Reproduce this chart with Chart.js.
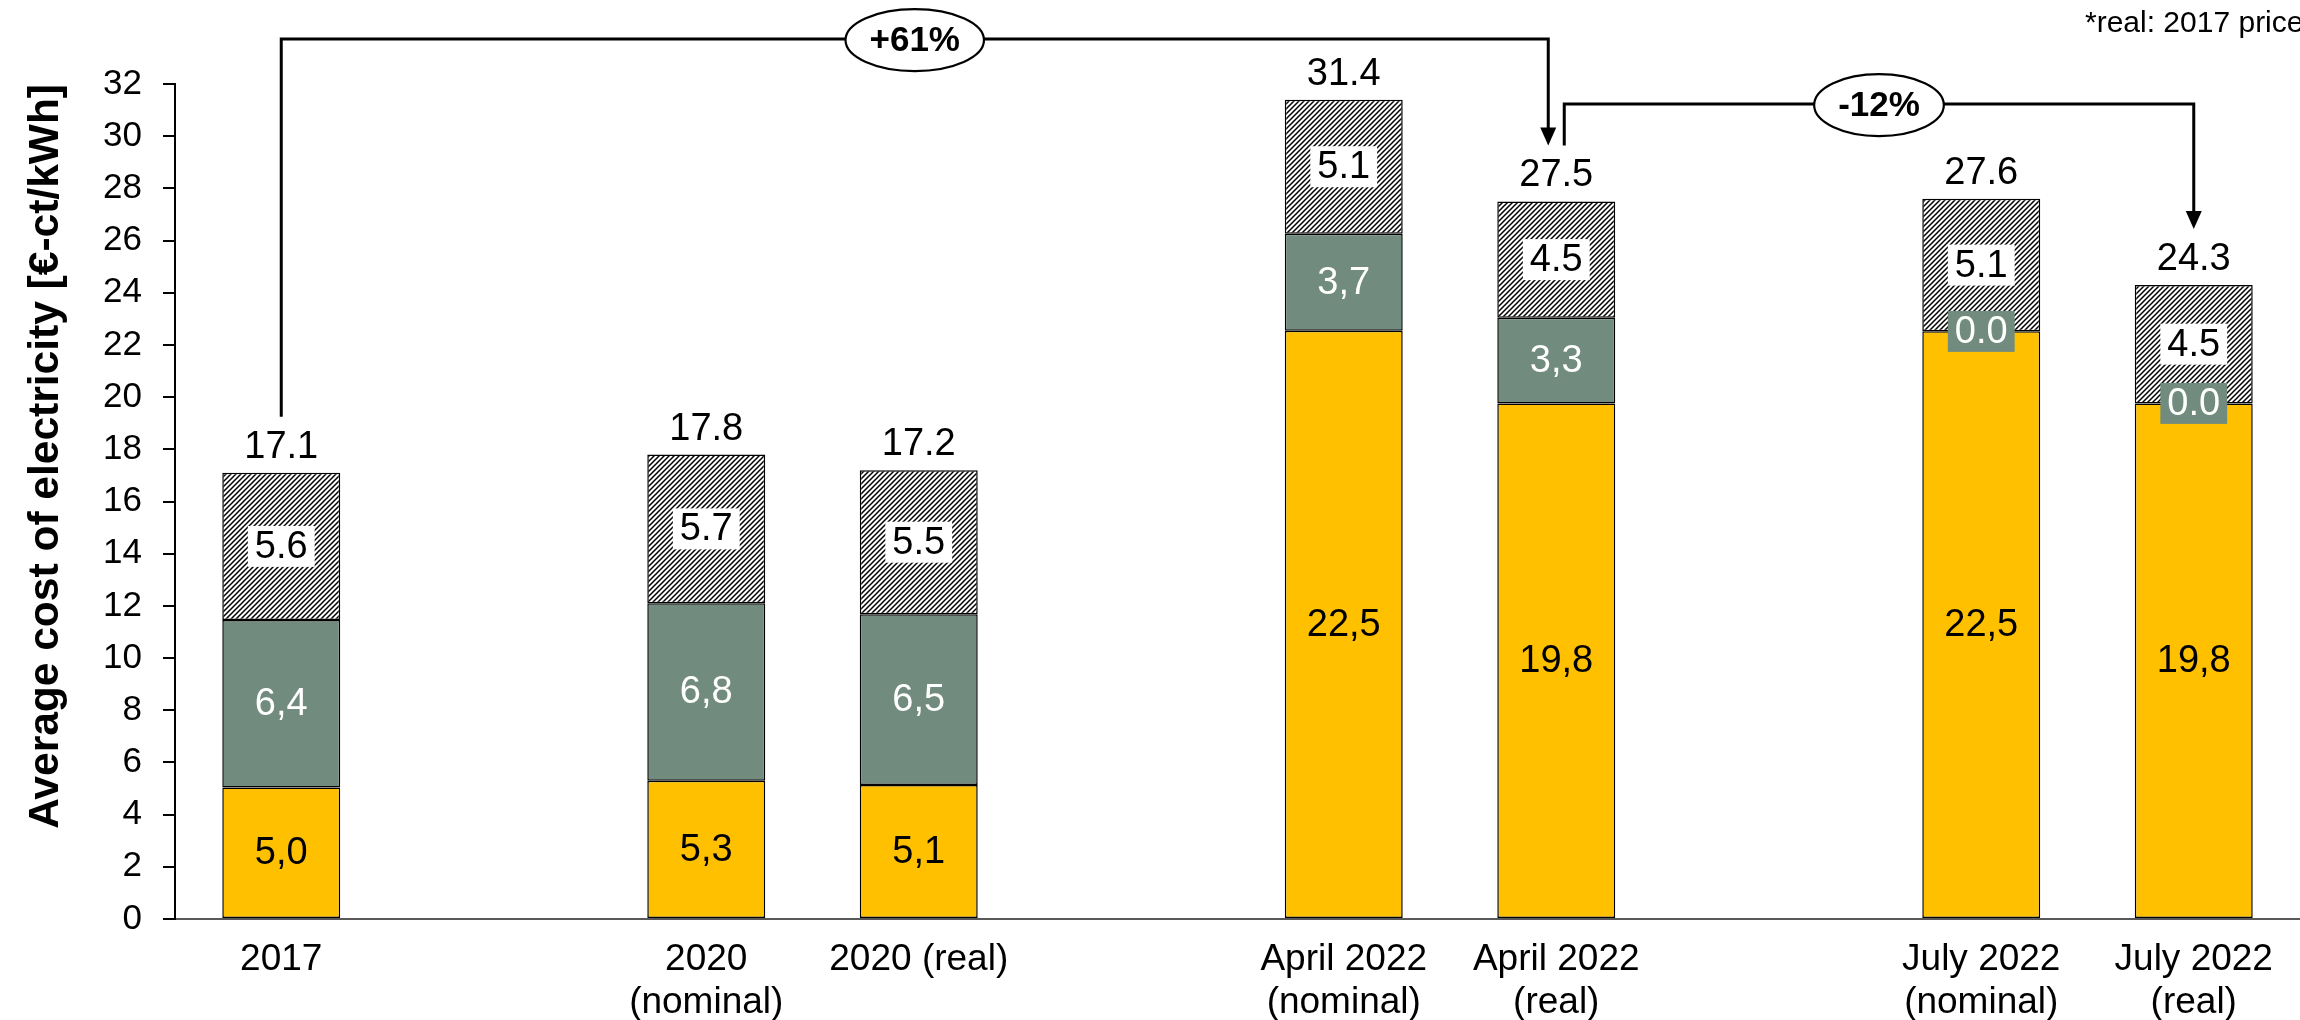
<!DOCTYPE html>
<html>
<head>
<meta charset="utf-8">
<title>Average cost of electricity</title>
<script src="https://cdn.jsdelivr.net/npm/chart.js@4.4.1/dist/chart.umd.min.js"></script>
<style>
  html, body { margin: 0; padding: 0; background: #fff; }
  #wrap { width: 2300px; height: 1020px; }
</style>
</head>
<body>
<div id="wrap"><canvas id="costChart" width="2300" height="1020"></canvas></div>
<script>
const FONT = '"Liberation Sans", Arial, Helvetica, sans-serif';

// Categories - the empty slots keep the gaps between the groups
const categories = [
  '2017', '',
  ['2020', '(nominal)'], '2020 (real)', '',
  ['April 2022', '(nominal)'], ['April 2022', '(real)'], '',
  ['July 2022', '(nominal)'], ['July 2022', '(real)']
];

// Cost components in €-ct/kWh (null = gap slot)
const procurementCost = [5.04, null, 5.30, 5.14, null, 22.54, 19.76, null, 22.52, 19.76];
const eegLevy         = [6.42, null, 6.80, 6.54, null, 3.72, 3.28, null, 0, 0];
const taxesAndFees    = [5.64, null, 5.70, 5.52, null, 5.14, 4.46, null, 5.08, 4.54];

// Y axis range
const yMin = 0;
const yMax = 32;
const yStep = 2;

// Change brackets between two bars
const changeNotes = [
  { from: 0, to: 6, label: '+61%', level: 33.72, fromDx: 0, toDx: -8 },
  { from: 6, to: 9, label: '-12%', level: 31.23, fromDx: 8, toDx: 0 }
];

const footnote = '*real: 2017 prices';

const ctx = document.getElementById('costChart');

function makeHatch(context) {
  const size = 5;
  const c = document.createElement('canvas');
  c.width = size;
  c.height = size;
  const g = c.getContext('2d');
  g.fillStyle = '#fff';
  g.fillRect(0, 0, size, size);
  g.strokeStyle = '#000';
  g.lineWidth = 1.5;
  g.beginPath();
  g.moveTo(0, size); g.lineTo(size, 0);
  g.moveTo(-size / 2, size / 2); g.lineTo(size / 2, -size / 2);
  g.moveTo(size / 2, size * 1.5); g.lineTo(size * 1.5, size / 2);
  g.stroke();
  return context.createPattern(c, 'repeat');
}

function commaFmt(v) {
  if (v === 0) return '0.0';
  return v.toFixed(1).replace('.', ',');
}

function dotFmt(v) {
  return v.toFixed(1);
}

function stackTotal(i) {
  return procurementCost[i] + eegLevy[i] + taxesAndFees[i];
}

// top edge of the total label above bar i
function totalLabelTop(chart, i) {
  const topMeta = chart.getDatasetMeta(chart.data.datasets.length - 1);
  return topMeta.data[i].y - 15 - 27;
}

/**
 * Segment values inside the bars and totals on top
 */
const valueLabels = {
  id: 'valueLabels',
  afterDatasetsDraw(chart) {
    const c = chart.ctx;
    c.save();
    c.font = '38px ' + FONT;
    c.textAlign = 'center';
    c.textBaseline = 'middle';

    chart.data.datasets.forEach((ds, di) => {
      const meta = chart.getDatasetMeta(di);
      meta.data.forEach((bar, i) => {
        const v = ds.data[i];
        if (v === null || v === undefined) return;
        const text = ds.fmt(v);
        const tw = c.measureText(text).width;
        let cy = (bar.y + bar.base) / 2;
        let box = ds.labelBox;
        if (v === 0) {
          // empty segment: label sits on the boundary in a coloured box
          cy = bar.base;
          box = ds.backgroundColor;
        }
        if (box) {
          c.fillStyle = box;
          c.fillRect(bar.x - tw / 2 - 7, cy - 20.5, tw + 14, 41);
        }
        c.fillStyle = ds.labelColor;
        c.fillText(text, bar.x, cy + 1);
      });
    });

    // totals
    const topMeta = chart.getDatasetMeta(chart.data.datasets.length - 1);
    c.fillStyle = '#000';
    c.textBaseline = 'alphabetic';
    topMeta.data.forEach((bar, i) => {
      if (procurementCost[i] === null) return;
      c.fillText(stackTotal(i).toFixed(1), bar.x, bar.y - 15);
    });
    c.restore();
  }
};

/**
 * Brackets with the percentage change and the footnote
 */
const changeArrows = {
  id: 'changeArrows',
  afterDraw(chart) {
    const c = chart.ctx;
    const xs = chart.scales.x;
    const ys = chart.scales.y;
    c.save();
    changeNotes.forEach(n => {
      const x0 = xs.getPixelForValue(n.from) + n.fromDx;
      const x1 = xs.getPixelForValue(n.to) + n.toDx;
      const yLine = ys.getPixelForValue(n.level);
      const y0 = totalLabelTop(chart, n.from) - 14;
      const y1 = totalLabelTop(chart, n.to) - 14;

      c.strokeStyle = '#000';
      c.fillStyle = '#000';
      c.lineWidth = 3;
      c.beginPath();
      c.moveTo(x0, y0);
      c.lineTo(x0, yLine);
      c.lineTo(x1, yLine);
      c.lineTo(x1, y1 - 14);
      c.stroke();

      c.beginPath();
      c.moveTo(x1 - 8, y1 - 18);
      c.lineTo(x1 + 8, y1 - 18);
      c.lineTo(x1, y1);
      c.closePath();
      c.fill();

      const cx = (x0 + x1) / 2;
      c.font = 'bold 35px ' + FONT;
      const tw = c.measureText(n.label).width;
      c.beginPath();
      c.ellipse(cx, yLine + 1, tw / 2 + 24, 31, 0, 0, Math.PI * 2);
      c.fillStyle = '#fff';
      c.fill();
      c.lineWidth = 2.2;
      c.stroke();
      c.fillStyle = '#000';
      c.textAlign = 'center';
      c.textBaseline = 'middle';
      c.fillText(n.label, cx, yLine + 2);
    });

    c.font = '30px ' + FONT;
    c.fillStyle = '#000';
    c.textAlign = 'left';
    c.textBaseline = 'alphabetic';
    c.fillText(footnote, chart.width - 215, 32);
    c.restore();
  }
};

const hatch = makeHatch(ctx.getContext('2d'));

const barStyle = {
  borderColor: '#000',
  borderWidth: 1.5,
  borderSkipped: false,
  categoryPercentage: 1,
  barPercentage: 0.555
};

new Chart(ctx, {
  type: 'bar',
  data: {
    labels: categories,
    datasets: [
      Object.assign({
        label: 'Procurement',
        data: procurementCost,
        backgroundColor: '#FFC000',
        labelColor: '#000',
        labelBox: null,
        fmt: commaFmt
      }, barStyle),
      Object.assign({
        label: 'EEG levy',
        data: eegLevy,
        backgroundColor: '#718C7F',
        labelColor: '#fff',
        labelBox: null,
        fmt: commaFmt
      }, barStyle),
      Object.assign({
        label: 'Taxes and fees',
        data: taxesAndFees,
        backgroundColor: hatch,
        labelColor: '#000',
        labelBox: '#fff',
        fmt: dotFmt
      }, barStyle)
    ]
  },
  options: {
    responsive: false,
    animation: false,
    layout: {
      padding: { top: 84, right: 0, bottom: 0, left: 0 }
    },
    plugins: {
      legend: { display: false },
      tooltip: { enabled: false }
    },
    scales: {
      x: {
        stacked: true,
        grid: { display: false },
        border: { display: true, color: '#595959', width: 2 },
        ticks: {
          color: '#000',
          font: { family: FONT, size: 37, lineHeight: 1.15 },
          padding: 12,
          maxRotation: 0,
          autoSkip: false
        },
        afterFit(scale) { scale.height = 101; }
      },
      y: {
        stacked: true,
        min: yMin,
        max: yMax,
        ticks: {
          stepSize: yStep,
          color: '#000',
          font: { family: FONT, size: 35 },
          padding: 21
        },
        grid: {
          drawOnChartArea: false,
          drawTicks: true,
          tickLength: 12,
          color: '#000',
          lineWidth: 2
        },
        border: { display: true, color: '#000', width: 2 },
        title: {
          display: true,
          text: 'Average cost of electricity [€-ct/kWh]',
          align: 'end',
          color: '#000',
          font: { family: FONT, size: 42.5, weight: 'bold' },
          padding: { top: 21, bottom: 0 }
        },
        afterFit(scale) { scale.width = 175; }
      }
    }
  },
  plugins: [valueLabels, changeArrows]
});
</script>
</body>
</html>
